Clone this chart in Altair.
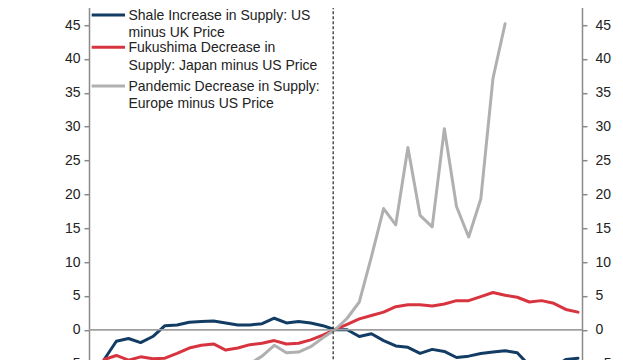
import altair as alt
import pandas as pd

# ---- data ----
periods = list(range(-19, 21))
shale = [-4.4, -1.7, -1.3, -1.9, -1.0, 0.6, 0.7, 1.1, 1.2, 1.3, 1.0, 0.7, 0.7, 0.9, 1.7, 1.0, 1.2, 1.0, 0.6,
         0.0,
         0.0, -1.0, -0.6, -1.6, -2.4, -2.6, -3.5, -2.9, -3.2, -4.1, -3.9, -3.5, -3.3, -3.1, -3.4, -5.3, -5.8, -5.5, -4.4, -4.2]
fukushima = [-4.4, -3.8, -4.5, -4.0, -4.3, -4.2, -3.5, -2.7, -2.3, -2.1, -3.0, -2.7, -2.2, -2.0, -1.6, -2.1, -2.0, -1.5, -0.8,
             0.0,
             0.8, 1.6, 2.1, 2.6, 3.4, 3.7, 3.7, 3.5, 3.8, 4.3, 4.3, 4.9, 5.5, 5.1, 4.8, 4.1, 4.3, 3.9, 3.0, 2.6]
pandemic = [None] * 12 + [-5.0, -3.9, -2.3, -3.4, -3.3, -2.5, -1.2,
                          0.0,
                          1.7, 4.1, 10.8, 17.9, 15.5, 26.9, 16.9, 15.2, 29.7, 18.2, 13.7, 19.3, 37.1, 45.2] + [None] * 6
event_x = [-0.15]
zero_y = [0]

series_names = ["Shale", "Fukushima", "Pandemic"]
series_colors = ["#123c64", "#d8343f", "#b0b0b0"]
legend_labels = [
    "Shale Increase in Supply: US\nminus UK Price",
    "Fukushima Decrease in\nSupply: Japan minus US Price",
    "Pandemic Decrease in Supply:\nEurope minus US Price",
]
y_ticks = list(range(-5, 46, 5))

# ---- build table ----
rows = []
for name, vals in zip(series_names, [shale, fukushima, pandemic]):
    for t, v in zip(periods, vals):
        if v is not None:
            rows.append({"t": t, "value": v, "series": name})
df = pd.DataFrame(rows)

FONT = "Liberation Sans"
TXT = "#222222"
AX = "#8a8a8a"

xscale = alt.Scale(domain=[-20.25, 20.33], nice=False, zero=False)
yscale = alt.Scale(domain=[-5, 50], nice=False)
color = alt.Color("series:N", scale=alt.Scale(domain=series_names, range=series_colors), legend=None)


def make_axis(orient, pad):
    return alt.Axis(values=y_ticks, orient=orient, grid=False, title=None,
                    domainColor=AX, domainWidth=1.5, tickColor=AX, tickWidth=1.5, tickSize=5,
                    labelColor=TXT, labelFont=FONT, labelFontSize=14, labelPadding=pad)


left_axis = make_axis("left", 4)
right_axis = make_axis("right", 8)

zero = alt.Chart(pd.DataFrame({"v": zero_y})).mark_rule(color="#a0a0a0", strokeWidth=1.5).encode(
    y=alt.Y("v:Q", scale=yscale, axis=left_axis)
)
zero_r = alt.Chart(pd.DataFrame({"v": zero_y})).mark_rule(color="#a0a0a0", strokeWidth=1.5).encode(
    y=alt.Y("v:Q", scale=yscale, axis=right_axis)
)

lines = alt.Chart(df).mark_line(strokeWidth=3, strokeJoin="round", strokeCap="round").encode(
    x=alt.X("t:Q", scale=xscale, axis=None),
    y=alt.Y("value:Q", scale=yscale, axis=left_axis),
    color=color,
    detail="series:N",
)

event = alt.Chart(pd.DataFrame({"x": event_x})).mark_rule(
    color="#333333", strokeWidth=1.3, strokeDash=[3, 2]
).encode(x=alt.X("x:Q", scale=xscale, axis=None))

legend_layers = []
sym_y = [23.7, 56.1, 94.8]
txt_y = [29.3, 61.1, 99.8]
line_h = [16.5, 17.3, 17.3]
for i in range(3):
    one = pd.DataFrame({"a": [0]})
    legend_layers.append(
        alt.Chart(one).mark_rule(color=series_colors[i], strokeWidth=3).encode(
            x=alt.value(2.7), x2=alt.value(36), y=alt.value(sym_y[i])
        )
    )
    legend_layers.append(
        alt.Chart(one).mark_text(align="left", baseline="alphabetic", font=FONT, fontSize=14,
                                 color=TXT, lineBreak="\n", lineHeight=line_h[i]).encode(
            x=alt.value(39.5), y=alt.value(txt_y[i]), text=alt.value(legend_labels[i])
        )
    )

left_part = alt.layer(zero, lines, event, *legend_layers)
chart = alt.layer(left_part, zero_r).resolve_scale(y="independent").properties(
    width=493, height=372.4, autosize="none",
    padding={"left": 81, "top": -16.8, "right": 32, "bottom": 12},
).configure_view(stroke=None).configure(background="white")

chart.save("out.html", embed_options={"renderer": "svg", "actions": False})
